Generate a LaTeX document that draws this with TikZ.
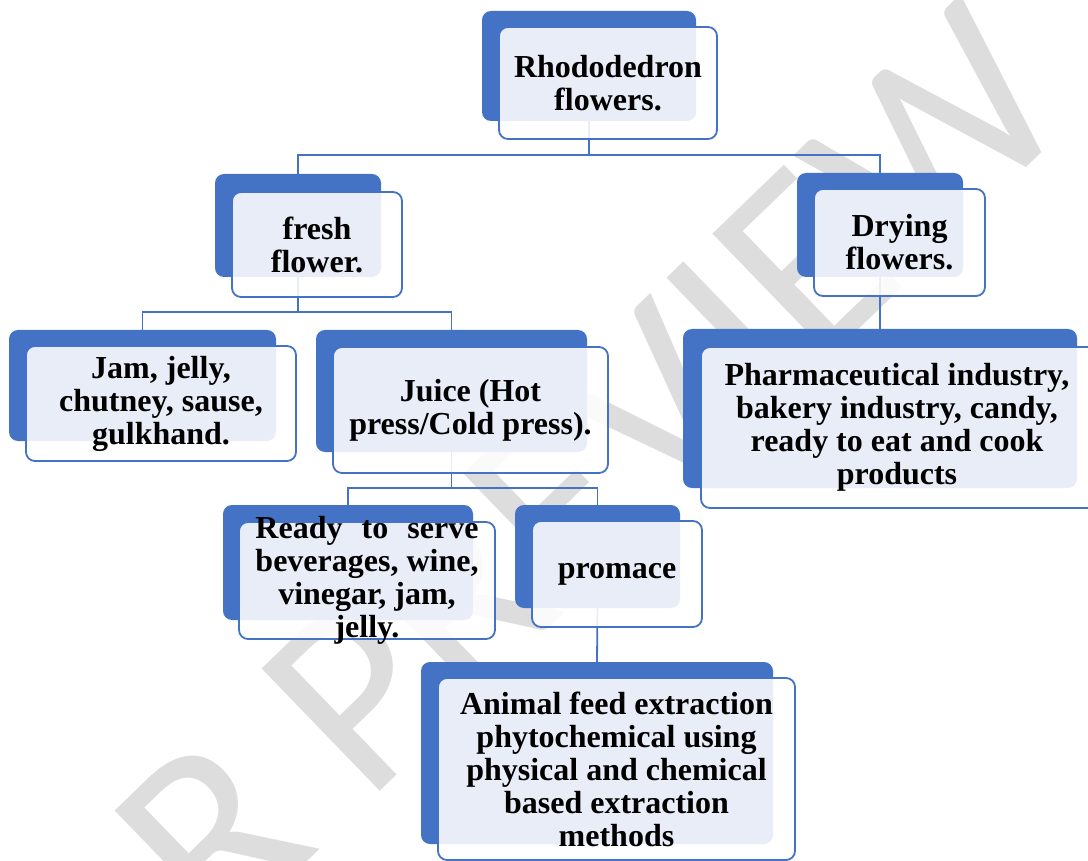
\documentclass[tikz,border=0pt]{standalone}
\usepackage{fontspec}
\setmainfont{Liberation Serif}
\newfontfamily\wmfont{Carlito}
\usepackage{calc}
\usetikzlibrary{calc}
\definecolor{sablue}{RGB}{68,114,196}
\definecolor{wmgray}{RGB}{221,221,221}
\pgfdeclarelayer{wm}
\pgfdeclarelayer{conn}
\pgfdeclarelayer{back}
\pgfsetlayers{wm,conn,back,main}
\tikzset{
  backbox/.style={fill=sablue, draw=none, rounded corners=9pt, inner sep=0pt},
  frontbox/.style={fill=white, fill opacity=0.88, draw=sablue, line width=1.8pt, rounded corners=9pt, inner sep=0pt},
  lbl/.style={font=\bfseries\fontsize{32}{33}\selectfont, align=center, inner sep=0pt, text=black},
  conn/.style={draw=sablue, line width=1.8pt},
  wmark/.style={font=\wmfont\fontsize{265}{265}\selectfont, text=wmgray, inner sep=0pt, rotate=44, anchor=base west}
}
\begin{document}
\begin{tikzpicture}[x=1pt,y=-1pt]
\useasboundingbox (0,0) rectangle (1088,861);

% watermark
\begin{pgfonlayer}{wm}
\fill[white] (0,0) rectangle (1088,861);
\node[wmark] (wm) at (366,805) {\llap{IJDR }PREVIEW};
\end{pgfonlayer}

% back boxes
\begin{pgfonlayer}{back}
\node[backbox, minimum width=214, minimum height=110] (rhodB) at (589,66) {};
\node[backbox, minimum width=166, minimum height=103] (freshB) at (298,225.5) {};
\node[backbox, minimum width=166, minimum height=104] (dryB) at (880,225) {};
\node[backbox, minimum width=267, minimum height=111] (jamB) at (142.5,385.5) {};
\node[backbox, minimum width=271, minimum height=122] (juiceB) at (451.5,391) {};
\node[backbox, minimum width=394, minimum height=159] (pharmaB) at (880,408.5) {};
\node[backbox, minimum width=250, minimum height=115] (readyB) at (348,562.5) {};
\node[backbox, minimum width=165, minimum height=103] (promB) at (597.5,556.5) {};
\node[backbox, minimum width=352, minimum height=182] (animalB) at (597,753) {};
\end{pgfonlayer}

% connectors
\coordinate (e1) at (0,155);
\coordinate (e2) at (0,312);
\coordinate (e3) at (0,488);
\begin{pgfonlayer}{conn}
\draw[conn] (rhodB.south) -- (rhodB.south |- e1) -| (freshB.north);
\draw[conn] (rhodB.south |- e1) -| (dryB.north);
\draw[conn] (freshB.south) -- (freshB.south |- e2) -| (jamB.north);
\draw[conn] (freshB.south |- e2) -| (juiceB.north);
\draw[conn] (dryB.south) -- (pharmaB.north);
\draw[conn] (juiceB.south) -- (juiceB.south |- e3) -| (readyB.north);
\draw[conn] (juiceB.south |- e3) -| (promB.north);
\draw[conn] (promB.south) -- (animalB.north);
\end{pgfonlayer}

% front boxes
\node[frontbox, minimum width=218, minimum height=112] (rhod) at (608,83) {};
\node[frontbox, minimum width=170, minimum height=105] (fresh) at (317,244.5) {};
\node[frontbox, minimum width=171, minimum height=107] (dry) at (899.5,242.5) {};
\node[frontbox, minimum width=270, minimum height=115] (jam) at (161,403.5) {};
\node[frontbox, minimum width=275, minimum height=126] (juice) at (470.5,410) {};
\node[frontbox, minimum width=398, minimum height=161] (pharma) at (900,427.5) {};
\node[frontbox, minimum width=256, minimum height=117] (ready) at (367,580.5) {};
\node[frontbox, minimum width=170, minimum height=106] (prom) at (617,574) {};
\node[frontbox, minimum width=357, minimum height=182] (animal) at (616.5,769) {};

% labels
\node[lbl] (rhodT) at (rhod.center) {Rhododedron\\flowers.};
\node[lbl] (freshT) at (fresh.center) {fresh\\flower.};
\node[lbl] (dryT) at (dry.center) {Drying\\flowers.};
\node[lbl] (jamT) at (jam.center) {Jam, jelly,\\chutney, sause,\\gulkhand.};
\node[lbl] (juiceT) at (juice.center) {Juice (Hot\\press/Cold press).};
\node[lbl] (pharmaT) at (897,427.5) {Pharmaceutical industry,\\bakery industry, candy,\\ready to eat and cook\\products};
\node[lbl] (readyT) at (ready.center) {\makebox[\widthof{beverages, wine,}][s]{Ready to serve}\\beverages, wine,\\vinegar, jam,\\jelly.};
\node[lbl] (promT) at (prom.center) {promace};
\node[lbl] (animalT) at (animal.center) {Animal feed extraction\\phytochemical using\\physical and chemical\\based extraction\\methods};
\end{tikzpicture}
\end{document}
